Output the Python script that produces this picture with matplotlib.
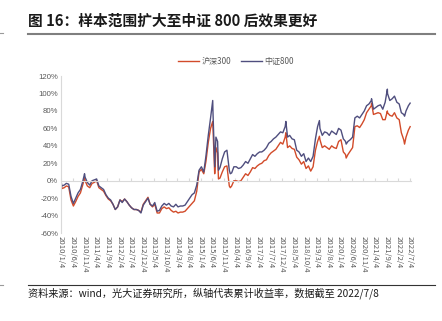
import matplotlib
matplotlib.use("Agg")
import matplotlib.pyplot as plt
import pandas as pd

plt.rcParams['font.family'] = ['Noto Sans CJK SC', 'DejaVu Sans']

# monthly values (mid-month), cumulative return in %
zz800_monthly = [
    -6, -5, -3, -4, -18, -26, -20, -14, -10, -1, 4, -2,          # 2010
    -5, 0, 1, 2, -6, -8, -10, -16, -20, -22, -27, -33,           # 2011
    -30, -22, -25, -21, -24, -28, -31, -33, -33, -34, -37, -28,  # 2012
    -24, -20, -27, -29, -25, -35, -34, -29, -26, -28, -26, -29,  # 2013
    -30, -27, -30, -29, -29, -28, -24, -20, -16, -14, -5, 12,    # 2014
    16, 10, 28, 52, 72, 80, 30, 45, 15, 25, 33, 35,              # 2015
    12, 9, 16, 16, 14, 15, 18, 22, 20, 25, 30, 28,               # 2016
    31, 33, 33, 35, 38, 43, 45, 48, 50, 53, 56, 55,              # 2017
    62, 50, 52, 48, 47, 35, 33, 28, 31, 22, 26, 22,              # 2018
    28, 48, 62, 60, 52, 56, 55, 52, 57, 55, 53, 60,              # 2019
    58, 48, 45, 45, 47, 50, 72, 74, 72, 76, 80, 86,              # 2020
    88, 92, 82, 84, 86, 87, 82, 90, 100, 92, 94, 97,             # 2021
    90, 88, 78, 76, 80, 86,                                      # 2022
]
hs300_monthly = [
    -9, -8, -6, -7, -22, -29, -24, -18, -14, -5, 0, -6,
    -8, -3, -2, 0, -8, -10, -12, -17, -21, -23, -27, -33,
    -30, -22, -24, -21, -24, -28, -31, -33, -33, -34, -36, -27,
    -23, -19, -27, -30, -27, -37, -37, -32, -30, -32, -31, -34,
    -36, -35, -37, -36, -36, -35, -32, -29, -26, -23, -12, 10,
    13, 8, 22, 44, 60, 62, 18, 32, 3, 10, 16, 17,
    -6, -6, 0, 0, -1, 0, 4, 8, 6, 10, 15, 14,
    17, 19, 20, 23, 24, 29, 32, 34, 36, 40, 44, 42,
    50, 38, 40, 37, 36, 27, 24, 19, 22, 14, 17, 11,
    16, 35, 45, 47, 38, 40, 38, 36, 40, 38, 37, 45,
    47, 33, 30, 30, 34, 38, 62, 63, 61, 65, 70, 78,
    82, 86, 76, 77, 78, 77, 70, 70, 78, 75, 74, 78,
    72, 70, 55, 47, 50, 58,
]

# start / end and turning points
extra_dates = ["2010-01-04", "2010-11-08", "2015-06-12", "2015-07-08", "2015-07-24",
               "2015-08-26", "2016-01-28", "2018-01-24", "2019-04-08", "2020-03-23",
               "2021-02-18", "2021-09-13", "2022-04-26", "2022-07-08"]
extra_zz800 = [0, 8, 92, 16, 50, 12, 8, 68, 69, 42, 94, 105, 74, 89]
extra_hs300 = [0, 3, 68, 8, 38, 2, -8, 55, 51, 26, 89, 80, 42, 62]

month_dates = pd.date_range("2010-01-01", periods=len(zz800_monthly), freq="MS") + pd.Timedelta(days=14)
dates = list(month_dates) + list(pd.to_datetime(extra_dates))
df = pd.DataFrame({"date": dates,
                   "hs300": hs300_monthly + extra_hs300,
                   "zz800": zz800_monthly + extra_zz800}).sort_values("date")

tick_dates = pd.date_range("2010-01-01", "2022-07-01", freq="5MS") + pd.Timedelta(days=3)
tick_labels = [f"{d.year}/{d.month}/{d.day}" for d in tick_dates]

RED = "#D24B2A"
BLUE = "#4F4E7E"

fig = plt.figure(figsize=(4.42, 3.21), dpi=100)

fig.text(0.063, 0.937, "图 16：样本范围扩大至中证 800 后效果更好", fontsize=10.6,
         fontweight="bold", color="#1a1a1a", va="center", ha="left")
fig.add_artist(plt.Line2D([0.063, 0.984], [0.895, 0.895], color="#7f7f7f", lw=1.5))
fig.add_artist(plt.Line2D([0.063, 0.984], [0.112, 0.112], color="#333333", lw=0.8))
# small page marks at the left edge
fig.add_artist(plt.Line2D([0.0, 0.006], [0.897, 0.897], color="#9a9a9a", lw=0.8))
fig.add_artist(plt.Line2D([0.0, 0.006], [0.112, 0.112], color="#9a9a9a", lw=0.8))
fig.text(0.063, 0.086, "资料来源：wind，光大证券研究所，纵轴代表累计收益率，数据截至 2022/7/8",
         fontsize=7.3, color="#1a1a1a", va="center", ha="left")

ax = fig.add_axes([0.138, 0.274, 0.792, 0.489])
ax.plot(df["date"], df["hs300"], color=RED, lw=1.0, label="沪深300")
ax.plot(df["date"], df["zz800"], color=BLUE, lw=1.0, label="中证800")

ax.set_ylim(-60, 120)
ax.set_yticks(range(-60, 121, 20))
ax.set_yticklabels([f"{v}%" for v in range(-60, 121, 20)],
                   fontfamily=["Liberation Sans", "DejaVu Sans"])
ax.set_xlim(pd.Timestamp("2010-01-04"), pd.Timestamp("2022-07-20"))
ax.set_xticks(tick_dates)
ax.set_xticklabels(tick_labels, fontfamily=["Liberation Sans", "DejaVu Sans"])

for s in ["top", "right"]:
    ax.spines[s].set_visible(False)
ax.spines["left"].set_color("#d9d9d9")
ax.spines["bottom"].set_color("#d9d9d9")
ax.spines["bottom"].set_position(("data", 0))
ax.tick_params(axis="y", length=0, labelsize=5.6, labelcolor="#595959", pad=2)
ax.tick_params(axis="x", length=2.5, direction="in", color="#d9d9d9",
               labelsize=5.6, labelcolor="#595959", pad=40, labelrotation=-90)

leg = ax.legend(loc="lower center", bbox_to_anchor=(0.5, 1.04), ncol=2, frameon=False,
                fontsize=5.8, handlelength=2.6, handletextpad=0.3, columnspacing=1.2,
                labelcolor="#595959", borderpad=0)

fig.savefig("out.png", dpi=100)
